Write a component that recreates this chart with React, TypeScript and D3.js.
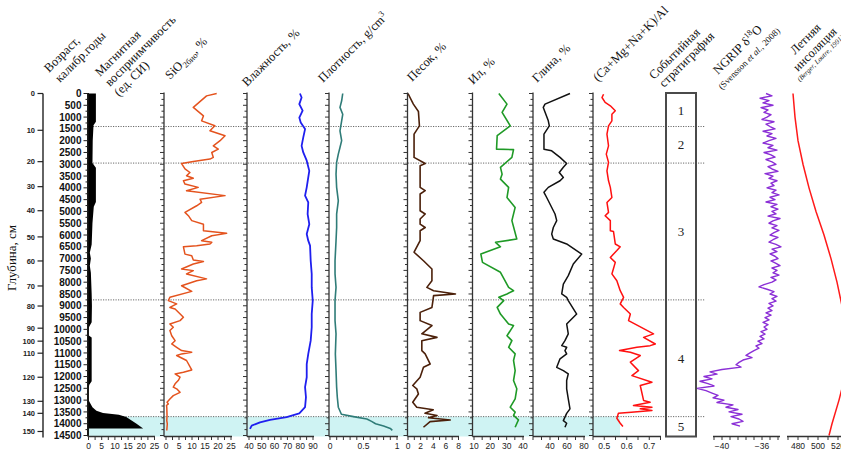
import * as d3 from "d3";

// ages are cal. yr BP; values in the units of each column
const ageTicks = d3.range(0, 14501, 500);
const ageMinor = d3.range(0, 14501, 250);
const depthTicks = [0, 10, 20, 30, 40, 50, 60, 70, 80, 90, 100, 110, 120, 130, 140, 150];
const depthAges = [0, 1560, 2890, 3950, 4970, 6080, 7100, 8160, 9010, 9950, 10500, 11010, 12030, 13050, 13560, 14330];
const eventBounds = [0, 1400, 2950, 8750, 13700, 14500];
const eventNames = ["1", "2", "3", "4", "5"];
const cyanBand = [13700, 14500];

const magSusc: [number, number][] = [
  [0, 2.8], [1200, 2.8], [1350, 1.9], [2000, 1.6], [2950, 1.5], [3150, 2.8], [4600, 2.8], [4800, 2.0],
  [5500, 1.5], [6400, 1.2], [6750, 0.5], [7000, 0.9], [7300, 0.5], [7600, 0.9], [7900, 1.0], [8500, 1.2],
  [9000, 1.3], [9700, 1.2], [9900, 0.2], [10000, 0], [10250, 0], [10350, 1.2], [12200, 1.2], [12350, 0.3],
  [12500, 0], [13000, 0], [13100, 0.5], [13300, 1.5], [13450, 3.0], [13550, 5.5], [13620, 11.5],
  [13720, 14.3], [14000, 18.2], [14200, 20.7],
];

const sio2: [number, number][] = [
  [0, 19.5], [100, 15.6], [590, 10.5], [950, 14.4], [1160, 13.7], [1370, 18.8], [1580, 16.9], [1790, 22.7],
  [2000, 20.8], [2220, 18.2], [2360, 20.1], [2500, 17.6], [2710, 18.2], [2780, 16.9], [2880, 10.5], [2970, 6.0],
  [3200, 7.3], [3350, 9.2], [3490, 7.9], [3590, 10.5], [3700, 6.7], [3840, 7.3], [3980, 12.4], [4120, 7.9],
  [4330, 22.7], [4480, 13.1], [4620, 13.7], [4760, 11.8], [5040, 7.3], [5180, 8.6], [5390, 9.9], [5540, 14.4],
  [5820, 14.4], [5930, 23.3], [6030, 17.6], [6240, 13.7], [6310, 17.6], [6380, 16.9], [6450, 11.8], [6500, 6.7],
  [6810, 7.3], [6880, 9.9], [7060, 10.5], [7120, 14.4], [7230, 10.5], [7440, 6.0], [7510, 10.5], [7650, 7.9],
  [7860, 15.6], [7940, 11.8], [8150, 6.0], [8390, 9.9], [8640, 1.5], [8780, 0.9], [8920, 4.1], [9070, 1.5],
  [9140, 3.5], [9490, 6.7], [9630, 5.4], [9770, 1.5], [9910, 2.8], [10050, 1.5], [10270, 2.2], [10480, 3.5],
  [10620, 2.2], [10760, 4.1], [10900, 6.0], [10970, 9.9], [11040, 6.0], [11110, 4.1], [11320, 7.9], [11720, 9.9],
  [11820, 6.7], [11890, 3.5], [12030, 5.4], [12170, 4.7], [12310, 3.5], [12450, 2.8], [12520, 4.1], [12670, 5.4],
  [12810, 2.8], [12950, 1.5], [13090, 0.4], [13160, 0.9], [13230, 0.2], [13300, 0.3], [13650, 0.4], [13870, 0.3],
  [14010, 0.5], [14290, 0.3],
];

const moisture: [number, number][] = [
  [0, 79.8], [170, 81.1], [450, 79.3], [730, 81.9], [1020, 79.3], [1230, 80.4], [1510, 83.8], [1860, 82.4],
  [2220, 81.1], [2500, 82.4], [2850, 85.1], [3280, 87.1], [3560, 86.3], [3980, 85.1], [4330, 83.8], [4620, 86.3],
  [5110, 85.8], [5540, 87.1], [5960, 85.1], [6240, 86.3], [6450, 87.7], [7090, 88.2], [7650, 89.0], [8220, 89.0],
  [8780, 89.8], [9350, 89.0], [9910, 89.0], [10480, 88.2], [11040, 86.3], [11470, 85.1], [12030, 85.1],
  [12450, 83.8], [12880, 84.5], [13300, 83.8], [13560, 79.3], [13720, 69.4], [13840, 56.4], [13940, 48.6],
  [14080, 42.1], [14220, 40.8],
];

const density: [number, number][] = [
  [0, 0.19], [310, 0.174], [590, 0.149], [880, 0.19], [1160, 0.174], [1580, 0.149], [2000, 0.174], [2290, 0.149],
  [2570, 0.124], [2920, 0.099], [3420, 0.09], [3980, 0.099], [4550, 0.124], [5110, 0.099], [5680, 0.099],
  [6240, 0.09], [7090, 0.075], [7650, 0.075], [8220, 0.09], [8780, 0.075], [9630, 0.075], [10190, 0.09],
  [11040, 0.08], [11750, 0.09], [12450, 0.099], [12880, 0.109], [13300, 0.124], [13600, 0.17], [13700, 0.35],
  [13800, 0.55], [13900, 0.62], [14000, 0.68], [14100, 0.8], [14200, 0.9], [14280, 0.93],
];

const sand: [number, number][] = [
  [0, 0], [450, 0.85], [760, 1.65], [1370, 1.81], [1720, 0.96], [2710, 0.96], [2970, 2.72], [3060, 1.92],
  [3980, 1.92], [4120, 2.72], [4260, 1.92], [4970, 1.92], [5110, 2.72], [5320, 1.92], [5540, 1.92], [5680, 2.72],
  [5820, 1.92], [6240, 1.92], [6730, 0.96], [7090, 2.45], [7440, 3.79], [7940, 3.79], [8220, 2.99], [8360, 4.05],
  [8500, 7.52], [8570, 4.05], [8780, 3.95], [9070, 3.79], [9280, 1.92], [9630, 1.92], [9840, 3.79], [10190, 2.19],
  [10340, 4.59], [10480, 2.19], [10900, 2.19], [11040, 2.72], [11470, 3.52], [11610, 2.45], [12030, 1.92],
  [12380, 0.75], [12520, 1.39], [12740, 1.65], [13090, 0.75], [13300, 1.39], [13410, 4.0], [13560, 2.7],
  [13650, 4.6], [13750, 3.25], [13840, 6.7], [13910, 3.5], [14150, 2.45],
];

const silt: [number, number][] = [
  [0, 25.2], [450, 30.2], [800, 27.2], [1370, 32.2], [1790, 24.2], [2360, 23.8], [2380, 34.2], [2710, 33.2],
  [3130, 26.2], [3420, 27.2], [3630, 26.2], [3980, 31.2], [4410, 30.2], [4830, 35.2], [5390, 33.2], [6170, 36.2],
  [6310, 23.2], [6500, 26.2], [6810, 14.2], [7160, 15.2], [7580, 26.2], [8220, 31.2], [8360, 34.2], [8500, 30.2],
  [8640, 25.2], [8780, 28.2], [9070, 24.2], [9350, 26.2], [9770, 31.2], [9840, 34.2], [10270, 30.2], [10480, 33.2],
  [10760, 31.2], [11040, 35.2], [11320, 34.2], [11750, 35.2], [12170, 34.2], [12520, 36.2], [12950, 35.2],
  [13300, 32.2], [13510, 35.2], [13650, 34.2], [13840, 37.2], [14150, 35.2],
];

const clay: [number, number][] = [
  [0, 63.5], [450, 34.1], [590, 32.1], [1160, 38.0], [1370, 39.2], [1720, 32.9], [2360, 32.9], [2430, 42.0],
  [2710, 51.8], [2970, 59.6], [3130, 55.7], [3350, 50.9], [3560, 55.7], [3700, 51.8], [3980, 38.0], [4190, 32.9],
  [4410, 36.1], [5110, 45.9], [5390, 47.9], [5680, 43.9], [5960, 42.0], [6170, 43.9], [6380, 59.6], [6810, 77.3],
  [7230, 67.4], [7720, 61.5], [8080, 55.7], [8500, 53.8], [8640, 59.6], [8780, 61.5], [9350, 71.4], [9770, 59.6],
  [10190, 61.5], [10480, 57.6], [10690, 53.8], [10760, 59.6], [10900, 57.6], [11040, 59.6], [11250, 51.8],
  [11610, 47.9], [11750, 55.7], [11890, 61.5], [12170, 59.6], [12520, 59.6], [12950, 61.5], [13370, 63.5],
  [13560, 59.6], [13870, 55.7], [13980, 59.6], [14150, 57.6],
];

const cationRatio: [number, number][] = [
  [30, 0.497], [170, 0.49], [380, 0.504], [520, 0.527], [730, 0.549], [880, 0.534], [1160, 0.534], [1370, 0.519],
  [1720, 0.512], [2220, 0.519], [2570, 0.509], [2920, 0.519], [3280, 0.512], [3700, 0.519], [3980, 0.527],
  [4410, 0.534], [4620, 0.512], [5040, 0.519], [5180, 0.504], [5390, 0.527], [5820, 0.527], [5850, 0.541],
  [6380, 0.549], [6500, 0.571], [6660, 0.556], [6950, 0.527], [7160, 0.549], [7650, 0.534], [7940, 0.556],
  [8360, 0.571], [8640, 0.586], [8920, 0.571], [9070, 0.586], [9350, 0.616], [9630, 0.608], [10190, 0.719],
  [10340, 0.675], [10620, 0.727], [10690, 0.704], [10760, 0.645], [10900, 0.568], [10970, 0.616], [11110, 0.66],
  [11390, 0.616], [11750, 0.652], [11960, 0.623], [12240, 0.712], [12380, 0.66], [13020, 0.675], [13090, 0.704],
  [13230, 0.63], [13300, 0.712], [13370, 0.66], [13440, 0.712], [13510, 0.62], [13560, 0.563], [13770, 0.556],
  [13980, 0.571], [14120, 0.583],
];

// NGRIP d18O, one value per century from 0 to 14100 yr BP
const ngripStep = 100;
const ngrip = [
  -35.6, -35.0, -36.2, -35.3, -35.9, -34.9, -36.1, -35.4, -35.8, -35.1,
  -35.5, -36.0, -34.8, -35.6, -35.2, -34.7, -35.9, -35.0, -35.5, -34.6,
  -35.3, -35.9, -34.9, -35.4, -34.5, -35.8, -35.1, -34.7, -35.6, -35.0,
  -34.6, -35.4, -35.0, -34.4, -35.7, -34.9, -35.3, -34.5, -35.1, -34.8,
  -35.5, -34.6, -35.0, -34.3, -35.2, -34.7, -35.6, -34.5, -35.1, -34.4,
  -35.0, -34.6, -35.4, -34.2, -34.9, -35.3, -34.5, -35.0, -34.3, -34.8,
  -35.2, -34.4, -34.9, -35.3, -34.6, -34.1, -35.0, -34.5, -35.2, -34.7,
  -34.4, -35.1, -34.6, -34.2, -35.0, -34.5, -34.9, -34.3, -35.1, -34.6,
  -35.0, -35.8, -36.3, -35.5, -34.8, -35.2, -34.5, -35.0, -34.6, -35.3,
  -34.9, -35.4, -35.0, -35.6, -35.1, -35.7, -35.3, -35.9, -35.4, -35.8,
  -35.5, -36.1, -35.7, -36.2, -35.8, -36.4, -36.0, -36.6, -36.3, -36.8,
  -37.2, -37.6, -37.0, -37.9, -38.3, -38.6, -38.1, -40.0, -41.2, -40.5,
  -41.8, -41.0, -42.2, -41.4, -40.8, -42.5, -41.6, -41.0, -40.4, -40.9,
  -39.8, -40.5, -38.9, -39.6, -38.4, -39.3, -38.0, -39.1, -38.3, -37.9,
  -39.0, -38.2,
];

const insolation: [number, number][] = [
  [0, 475], [1000, 477], [2000, 480], [3000, 485], [4000, 491], [5000, 498], [6000, 506], [7000, 513],
  [8000, 519], [9000, 524], [10000, 528], [11000, 529], [12000, 527], [13000, 521], [14000, 514], [14500, 511],
];

type Part = [string, "n" | "sub" | "sup" | "i"];
const headers: { x: number; y: number; size: number; italic?: boolean; parts: Part[] }[] = [
  { x: 49, y: 73, size: 12.5, parts: [["Возраст,", "n"]] },
  { x: 60, y: 83, size: 12.5, parts: [["калибр.годы", "n"]] },
  { x: 100, y: 77, size: 12.5, parts: [["Магнитная", "n"]] },
  { x: 110, y: 87, size: 12.5, parts: [["восприимчивость", "n"]] },
  { x: 119, y: 97, size: 12.5, parts: [["(ед. СИ)", "n"]] },
  { x: 170, y: 80, size: 12.5, parts: [["SiO", "n"], ["2био", "sub"], [", %", "n"]] },
  { x: 247, y: 87, size: 12.5, parts: [["Влажность, %", "n"]] },
  { x: 323, y: 83, size: 12.5, parts: [["Плотность, g/cm", "n"], ["3", "sup"]] },
  { x: 412, y: 82, size: 12.5, parts: [["Песок, %", "n"]] },
  { x: 473, y: 85, size: 12.5, parts: [["Ил, %", "n"]] },
  { x: 537, y: 83, size: 12.5, parts: [["Глина, %", "n"]] },
  { x: 598, y: 82, size: 12.5, parts: [["(Ca+Mg+Na+K)/Al", "n"]] },
  { x: 654, y: 80, size: 12.5, parts: [["Событийная", "n"]] },
  { x: 664, y: 88, size: 12.5, parts: [["стратиграфия", "n"]] },
  { x: 718, y: 75, size: 12.5, parts: [["NGRIP δ", "n"], ["18", "sup"], ["O", "n"]] },
  { x: 722, y: 90, size: 9, parts: [["(Svensson ", "n"], ["et al.", "i"], [", 2008)", "n"]] },
  { x: 795, y: 55, size: 12.5, parts: [["Летняя", "n"]] },
  { x: 798, y: 72, size: 12.5, parts: [["инсоляция", "n"]] },
  { x: 800, y: 82, size: 7, italic: true, parts: [["(Berger, Loutre, 1991)", "n"]] },
];

const SERIF = "'Liberation Serif', 'Times New Roman', serif";
const SANS = "'Liberation Sans', Arial, sans-serif";

type Scale = d3.ScaleLinear<number, number>;

export default function App() {
  const W = 841;
  const H = 451;
  const y = d3.scaleLinear().domain([0, 14500]).range([93.5, 435.5]);
  const base = 436.5;

  const xMag = d3.scaleLinear().domain([0, 25]).range([88.5, 154.5]);
  const xSi = d3.scaleLinear().domain([0, 25]).range([166, 231]);
  const xMoist = d3.scaleLinear().domain([40, 90]).range([249, 313]);
  const xDens = d3.scaleLinear().domain([0, 1]).range([330, 397]);
  const xSand = d3.scaleLinear().domain([0, 8]).range([408, 458.5]);
  const xSilt = d3.scaleLinear().domain([10, 40]).range([474, 523]);
  const xClay = d3.scaleLinear().domain([20, 80]).range([533, 584]);
  const xRatio = d3.scaleLinear().domain([0.45, 0.75]).range([593, 660.5]);
  const xNgrip = d3.scaleLinear().domain([-40, -36]).range([722, 762]);
  const xIns = d3.scaleLinear().domain([480, 500]).range([798, 818]);

  const lineOf = (x: Scale) =>
    d3.line<[number, number]>().x((d) => x(d[1])).y((d) => y(d[0]));
  const magArea = d3
    .area<[number, number]>()
    .y((d) => y(d[0]))
    .x0(xMag(0))
    .x1((d) => xMag(d[1]));

  const ngripPts: [number, number][] = ngrip.map((v, i) => [i * ngripStep, v]);

  const series = [
    { data: sio2, x: xSi, color: "#e4531e", w: 1.5 },
    { data: moisture, x: xMoist, color: "#1f1fef", w: 1.8 },
    { data: density, x: xDens, color: "#2f7c78", w: 1.6 },
    { data: sand, x: xSand, color: "#4b200a", w: 1.6 },
    { data: silt, x: xSilt, color: "#1f9a26", w: 1.6 },
    { data: clay, x: xClay, color: "#111111", w: 1.5 },
    { data: cationRatio, x: xRatio, color: "#ff1010", w: 1.5 },
    { data: ngripPts, x: xNgrip, color: "#8b2fd6", w: 1.4 },
    { data: insolation, x: xIns, color: "#ff1a1a", w: 1.5 },
  ];

  const fmtNum = (v: number) => d3.format("~g")(+v.toFixed(3));

  const panels: {
    x: Scale; left?: number; from: number; to: number; ticks: number[]; labels: number[];
  }[] = [
    { x: xMag, from: 88, to: 155, ticks: d3.range(0, 25.01, 2.5), labels: [0, 5, 10, 15, 20, 25] },
    { x: xSi, left: 164, from: 164, to: 232, ticks: d3.range(0, 25.01, 2.5), labels: [0, 5, 10, 15, 20, 25] },
    { x: xMoist, left: 247, from: 247, to: 314, ticks: d3.range(40, 90.01, 5), labels: [40, 50, 60, 70, 80, 90] },
    { x: xDens, left: 329, from: 329, to: 398, ticks: d3.range(0, 1.001, 0.1), labels: [0, 0.5, 1] },
    { x: xSand, left: 407.5, from: 407.5, to: 459, ticks: d3.range(0, 8.01, 1), labels: [0, 2, 4, 6, 8] },
    { x: xSilt, left: 472.5, from: 472.5, to: 524, ticks: d3.range(10, 40.01, 5), labels: [10, 20, 30, 40] },
    { x: xClay, left: 533, from: 533, to: 585, ticks: d3.range(20, 80.01, 10), labels: [40, 60, 80] },
    { x: xRatio, left: 593, from: 593, to: 661, ticks: d3.range(0.45, 0.751, 0.05), labels: [0.5, 0.6, 0.7] },
    { x: xNgrip, from: 713, to: 780, ticks: d3.range(0, 9).map((i) => -40.8 + 0.8 * i), labels: [-40, -36] },
    { x: xIns, from: 787, to: 841, ticks: d3.range(470, 541, 10), labels: [480, 500, 520] },
  ];

  const renderParts = (parts: Part[], size: number) => {
    let shift = 0;
    return parts.map(([t, kind], i) => {
      const target = kind === "sub" ? 3 : kind === "sup" ? -5 : 0;
      const dy = target - shift;
      shift = target;
      return (
        <tspan
          key={i}
          dy={dy}
          fontSize={kind === "sub" || kind === "sup" ? size * 0.68 : size}
          fontStyle={kind === "i" ? "italic" : undefined}
        >
          {t}
        </tspan>
      );
    });
  };

  return (
    <svg
      width={W}
      height={H}
      style={{ position: "absolute", left: 0, top: 0, background: "#fff" }}
      fontFamily={SANS}
    >
      <rect width={W} height={H} fill="#fff" />

      {/* basal interval shading */}
      <rect x={88} y={y(cyanBand[0])} width={620 - 88} height={base - y(cyanBand[0])} fill="#cff3f3" />

      {/* event boundaries */}
      {eventBounds.slice(1, -1).map((a) => (
        <line key={a} x1={88} x2={705} y1={y(a)} y2={y(a)} stroke="#6a6a6a" strokeWidth={1} strokeDasharray="1.2,1.3" />
      ))}

      {/* magnetic susceptibility */}
      <path d={magArea(magSusc) ?? ""} fill="#000" />

      {series.map((s, i) => (
        <path key={i} d={lineOf(s.x)(s.data) ?? ""} fill="none" stroke={s.color} strokeWidth={s.w} strokeLinejoin="round" />
      ))}

      {/* depth axis */}
      <line x1={43} x2={43} y1={y(0)} y2={base + 1} stroke="#222" strokeWidth={1.4} />
      {depthTicks.map((d, i) => (
        <g key={d}>
          <line x1={37.5} x2={43} y1={y(depthAges[i])} y2={y(depthAges[i])} stroke="#222" strokeWidth={1.2} />
          <text x={35} y={y(depthAges[i])} dy="0.35em" textAnchor="end" fontSize={7.5} fontWeight="bold" fill="#222">
            {d}
          </text>
        </g>
      ))}
      <text transform={`translate(16,258) rotate(-90)`} textAnchor="middle" fontFamily={SERIF} fontSize={13} fill="#111">
        Глубина, см
      </text>

      {/* age axis */}
      <line x1={88} x2={88} y1={y(0) - 0.5} y2={base} stroke="#000" strokeWidth={1.8} />
      {ageMinor.map((a) => (
        <line key={a} x1={a % 500 === 0 ? 83.5 : 85.5} x2={88} y1={y(a)} y2={y(a)} stroke="#222" strokeWidth={1} />
      ))}
      {ageTicks.map((a) => (
        <text key={a} x={81.5} y={y(a)} dy="0.36em" textAnchor="end" fontSize={10} fontWeight="bold" fill="#111">
          {a}
        </text>
      ))}

      {/* panel axes */}
      {panels.map((p, i) => (
        <g key={i}>
          {p.left !== undefined && (
            <g>
              <line x1={p.left} x2={p.left} y1={y(0) - 1} y2={base} stroke="#333" strokeWidth={1.3} />
              {ageMinor.map((a) => (
                <line key={a} x1={p.left! - (a % 500 === 0 ? 4 : 2.5)} x2={p.left} y1={y(a)} y2={y(a)} stroke="#333" strokeWidth={1} />
              ))}
            </g>
          )}
          <line x1={p.from} x2={p.to} y1={base} y2={base} stroke="#333" strokeWidth={1.3} />
          {p.ticks.map((t, j) => (
            <line key={j} x1={p.x(t)} x2={p.x(t)} y1={base} y2={base + 3.5} stroke="#333" strokeWidth={1} />
          ))}
          {p.labels.map((t) => (
            <text key={t} x={p.x(t)} y={448.5} textAnchor="middle" fontSize={8.5} fill="#222">
              {fmtNum(t)}
            </text>
          ))}
        </g>
      ))}

      {/* event stratigraphy */}
      <rect x={666} y={y(0) - 0.5} width={30} height={base - y(0) + 0.5} fill="none" stroke="#4a4a4a" strokeWidth={2} />
      {eventNames.map((n, i) => (
        <text
          key={n}
          x={681}
          y={(y(eventBounds[i]) + y(eventBounds[i + 1])) / 2}
          dy="0.35em"
          textAnchor="middle"
          fontFamily={SERIF}
          fontSize={13}
          fill="#222"
        >
          {n}
        </text>
      ))}

      {/* column headers */}
      {headers.map((h, i) => (
        <text
          key={i}
          transform={`translate(${h.x},${h.y}) rotate(-45)`}
          fontFamily={SERIF}
          fontSize={h.size}
          fontStyle={h.italic ? "italic" : undefined}
          fill="#111"
        >
          {renderParts(h.parts, h.size)}
        </text>
      ))}
    </svg>
  );
}
